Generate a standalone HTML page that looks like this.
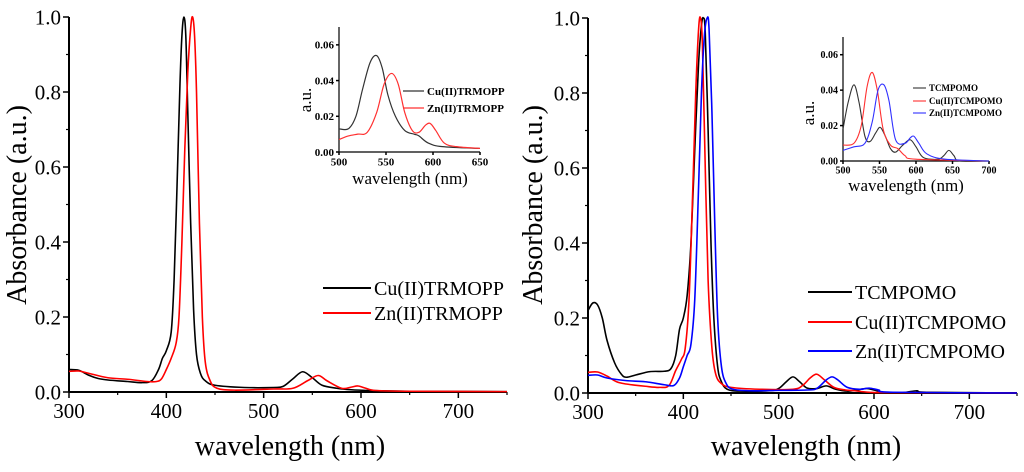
<!DOCTYPE html>
<html><head><meta charset="utf-8"><style>
html,body{margin:0;padding:0;background:#fff;}
svg{display:block;font-family:"Liberation Serif",serif;}
svg text{font-family:"Liberation Serif",serif;}
</style></head><body>
<svg id="chart" width="1024" height="472" viewBox="0 0 1024 472" xmlns="http://www.w3.org/2000/svg"></svg>
<script>
// ---- data ----
const leftCuWl=[300,310,320,330,340,360,375,385,392,396,400,405,408,411,414,416,418,420,422,425,428,431,435,440,450,480,510,520,530,540,550,560,575,590,610,650,750];
const leftCuAbs=[0.060,0.058,0.045,0.036,0.032,0.028,0.025,0.03,0.06,0.09,0.11,0.16,0.3,0.55,0.82,0.95,1.0,0.95,0.75,0.45,0.22,0.1,0.05,0.03,0.018,0.012,0.012,0.015,0.035,0.054,0.038,0.018,0.01,0.006,0.004,0.002,0.001];
const leftZnWl=[300,310,320,340,360,380,390,395,400,405,410,413,416,419,422,425,427,429,431,434,437,440,445,452,470,510,530,545,556,565,580,590,597,605,615,650,750];
const leftZnAbs=[0.055,0.056,0.05,0.038,0.034,0.028,0.028,0.035,0.06,0.09,0.13,0.2,0.4,0.65,0.85,0.97,1.0,0.95,0.8,0.45,0.2,0.08,0.03,0.01,0.005,0.008,0.01,0.03,0.044,0.03,0.01,0.013,0.016,0.01,0.004,0.002,0.001];
const rightTWl=[300,305,310,315,320,328,335,340,350,365,380,387,392,396,400,404,408,412,416,419,421,423,426,429,432,436,440,446,460,490,500,508,515,522,530,540,550,560,572,582,592,600,610,630,645,655,750];
const rightTAbs=[0.22,0.24,0.235,0.2,0.14,0.08,0.05,0.042,0.048,0.057,0.058,0.065,0.1,0.17,0.2,0.26,0.4,0.65,0.88,0.98,1.0,0.96,0.7,0.4,0.2,0.07,0.03,0.01,0.005,0.006,0.012,0.03,0.043,0.03,0.013,0.012,0.019,0.01,0.005,0.008,0.012,0.008,0.002,0.001,0.006,0.002,0];
const rightCuWl=[300,310,320,330,340,360,375,385,392,398,402,406,410,413,416,418,420,423,426,430,434,440,450,480,515,525,533,540,548,558,570,580,595,620,750];
const rightCuAbs=[0.055,0.056,0.045,0.03,0.024,0.018,0.015,0.02,0.06,0.09,0.12,0.25,0.55,0.8,0.97,1.0,0.93,0.6,0.3,0.12,0.05,0.025,0.015,0.01,0.01,0.02,0.04,0.05,0.035,0.015,0.008,0.006,0.002,0.001,0];
const rightZnWl=[300,310,320,340,360,380,390,396,400,404,408,412,416,419,422,425,427,430,433,436,440,445,452,470,500,530,540,550,556,562,572,585,595,605,620,750];
const rightZnAbs=[0.047,0.048,0.04,0.033,0.03,0.022,0.02,0.04,0.07,0.1,0.13,0.25,0.55,0.8,0.95,1.0,0.97,0.75,0.45,0.2,0.07,0.025,0.01,0.006,0.007,0.008,0.012,0.035,0.043,0.035,0.015,0.01,0.013,0.008,0.002,0];
const insetLCuWl=[500,510,518,525,533,540,546,552,560,570,580,585,595,610,650];
const insetLCuAbs=[0.013,0.013,0.02,0.035,0.05,0.054,0.047,0.032,0.02,0.012,0.01,0.009,0.005,0.003,0.002];
const insetLZnWl=[500,510,520,530,540,548,556,563,570,578,585,592,597,603,612,625,650];
const insetLZnAbs=[0.007,0.009,0.01,0.011,0.022,0.038,0.044,0.038,0.022,0.012,0.011,0.015,0.016,0.012,0.005,0.003,0.002];
const insetRTWl=[500,507,515,522,530,537,545,551,558,565,572,582,592,600,610,630,638,645,652,660,700];
const insetRTAbs=[0.018,0.033,0.043,0.033,0.014,0.011,0.016,0.019,0.014,0.007,0.005,0.009,0.012,0.008,0.002,0.001,0.003,0.006,0.003,0,0];
const insetRCuWl=[500,515,525,533,540,547,555,565,575,585,600,700];
const insetRCuAbs=[0.009,0.01,0.02,0.042,0.05,0.04,0.018,0.009,0.007,0.003,0.001,0];
const insetRZnWl=[500,515,530,540,548,556,563,572,585,592,597,604,615,640,700];
const insetRZnAbs=[0.006,0.008,0.01,0.022,0.04,0.043,0.034,0.012,0.01,0.013,0.014,0.01,0.004,0.001,0];
const mainXTicks=[300,400,500,600,700];
const mainYTicks=[0,0.2,0.4,0.6,0.8,1.0];
const insetLXTicks=[500,550,600,650];
const insetRXTicks=[500,550,600,650,700];
const insetYTicks=[0,0.02,0.04,0.06];

const NS="http://www.w3.org/2000/svg";
const svg=document.getElementById('chart');
function el(tag,attrs,parent,text){const e=document.createElementNS(NS,tag);for(const k in attrs)e.setAttribute(k,attrs[k]);if(text!==undefined)e.textContent=text;(parent||svg).appendChild(e);return e;}
function lin(d0,d1,r0,r1){return v=>r0+(v-d0)/(d1-d0)*(r1-r0);}
function pathOf(xs,ys,sx,sy){
  const p=xs.map((x,i)=>[sx(x),sy(ys[i])]);
  let d='M'+p[0][0].toFixed(2)+','+p[0][1].toFixed(2);
  for(let i=0;i<p.length-1;i++){
    const p0=p[i-1]||p[i],p1=p[i],p2=p[i+1],p3=p[i+2]||p2;
    const c1x=p1[0]+(p2[0]-p0[0])/6,c1y=p1[1]+(p2[1]-p0[1])/6;
    const c2x=p2[0]-(p3[0]-p1[0])/6,c2y=p2[1]-(p3[1]-p1[1])/6;
    d+=' C'+c1x.toFixed(2)+','+c1y.toFixed(2)+' '+c2x.toFixed(2)+','+c2y.toFixed(2)+' '+p2[0].toFixed(2)+','+p2[1].toFixed(2);
  }
  return d;
}
function axes(g,sx,sy,x0,x1,y0,y1,xt,xminor,yt,yminor,fs,dec,tl,bold){
  el('line',{x1:sx(x0),y1:sy(y0),x2:sx(x1),y2:sy(y0),stroke:'#000','stroke-width':tl>4?2:1.2},g);
  el('line',{x1:sx(x0),y1:sy(y0),x2:sx(x0),y2:sy(y1),stroke:'#000','stroke-width':tl>4?2:1.2},g);
  xt.forEach(v=>{el('line',{x1:sx(v),y1:sy(y0),x2:sx(v),y2:sy(y0)+tl,stroke:'#000','stroke-width':1.5},g);
    const t=el('text',{x:sx(v),y:sy(y0)+tl+fs*0.95,'text-anchor':'middle','font-size':fs,'font-weight':bold?'bold':'normal'},g,String(v));
    });
  xminor.forEach(v=>el('line',{x1:sx(v),y1:sy(y0),x2:sx(v),y2:sy(y0)+tl/2,stroke:'#000','stroke-width':1.2},g));
  yt.forEach(v=>{el('line',{x1:sx(x0)-tl,y1:sy(v),x2:sx(x0),y2:sy(v),stroke:'#000','stroke-width':1.5},g);
    const t=el('text',{x:sx(x0)-tl-2,y:sy(v)+fs*0.35,'text-anchor':'end','font-size':fs,'font-weight':bold?'bold':'normal'},g,v.toFixed(dec));
    });
  yminor.forEach(v=>el('line',{x1:sx(x0)-tl/2,y1:sy(v),x2:sx(x0),y2:sy(v),stroke:'#000','stroke-width':1.2},g));
}
function series(g,xs,ys,sx,sy,color,w,name){
  const p=el('path',{d:pathOf(xs,ys,sx,sy),fill:'none',stroke:color,'stroke-width':w,'stroke-linejoin':'round'},g);
  
}
function legend(g,x,y,len,color,label,fs,w,bold){
  const l=el('line',{x1:x,y1:y,x2:x+len,y2:y,stroke:color,'stroke-width':w},g);
  
  const t=el('text',{x:x+len+3,y:y+fs*0.35,'font-size':fs,'font-weight':bold?'bold':'normal'},g,label);
  
}
const minorMain=[350,450,550,650,750], minorY=[0.1,0.3,0.5,0.7,0.9];

// ---- left main panel ----
const gL=el('g',{});
const lx=lin(300,750,69,507), ly=lin(0,1,392,17);
axes(gL,lx,ly,300,750,0,1,mainXTicks,minorMain,mainYTicks,minorY,21,1,6,false);
series(gL,leftCuWl,leftCuAbs,lx,ly,'#000',1.6,'line-cu-trmopp');
series(gL,leftZnWl,leftZnAbs,lx,ly,'#ff0000',1.6,'line-zn-trmopp');
legend(gL,323,288,48,'#000','Cu(II)TRMOPP',20,2);
legend(gL,323,313,48,'#ff0000','Zn(II)TRMOPP',20,2);
let t=el('text',{x:290,y:455,'text-anchor':'middle','font-size':28},gL,'wavelength (nm)');
t=el('text',{x:0,y:0,'text-anchor':'middle','font-size':28,transform:'translate(26,205) rotate(-90)'},gL,'Absorbance (a.u.)');

// left inset
const gLI=el('g',{});
const ix=lin(500,650,339,480), iy=lin(0,0.07,152,27);
axes(gLI,ix,iy,500,650,0,0.07,insetLXTicks,[],insetYTicks,[],11,2,3,true);
series(gLI,insetLCuWl,insetLCuAbs,ix,iy,'#333',1.2,'inset-line-cu-trmopp');
series(gLI,insetLZnWl,insetLZnAbs,ix,iy,'#ff3030',1.2,'inset-line-zn-trmopp');
legend(gLI,403,91,21,'#333','Cu(II)TRMOPP',11,1.2,true);
legend(gLI,403,108,21,'#ff3030','Zn(II)TRMOPP',11,1.2,true);
t=el('text',{x:410,y:184,'text-anchor':'middle','font-size':17},gLI,'wavelength (nm)');
t=el('text',{x:0,y:0,'text-anchor':'middle','font-size':17,transform:'translate(311,100) rotate(-90)'},gLI,'a.u.');

// ---- right main panel ----
const gR=el('g',{});
const rx=lin(300,750,588,1017), ry=lin(0,1,393,18);
axes(gR,rx,ry,300,750,0,1,mainXTicks,minorMain,mainYTicks,minorY,21,1,6,false);
series(gR,rightTWl,rightTAbs,rx,ry,'#000',1.6,'line-tcmpomo');
series(gR,rightCuWl,rightCuAbs,rx,ry,'#ff0000',1.6,'line-cu-tcmpomo');
series(gR,rightZnWl,rightZnAbs,rx,ry,'#0000ff',1.6,'line-zn-tcmpomo');
legend(gR,808,292,44,'#000','TCMPOMO',20,2);
legend(gR,808,322,44,'#ff0000','Cu(II)TCMPOMO',20,2);
legend(gR,808,351,44,'#0000ff','Zn(II)TCMPOMO',20,2);
t=el('text',{x:806,y:455,'text-anchor':'middle','font-size':28},gR,'wavelength (nm)');
t=el('text',{x:0,y:0,'text-anchor':'middle','font-size':28,transform:'translate(542,205) rotate(-90)'},gR,'Absorbance (a.u.)');

// right inset
const gRI=el('g',{});
const jx=lin(500,700,843,989), jy=lin(0,0.07,161,37);
axes(gRI,jx,jy,500,700,0,0.07,insetRXTicks,[],insetYTicks,[],10,2,3,true);
series(gRI,insetRTWl,insetRTAbs,jx,jy,'#333',1.1,'inset-line-tcmpomo');
series(gRI,insetRCuWl,insetRCuAbs,jx,jy,'#ff3030',1.1,'inset-line-cu-tcmpomo');
series(gRI,insetRZnWl,insetRZnAbs,jx,jy,'#3030ff',1.1,'inset-line-zn-tcmpomo');
legend(gRI,913,88,13,'#333','TCMPOMO',9,1.1,true);
legend(gRI,913,101,13,'#ff3030','Cu(II)TCMPOMO',9,1.1,true);
legend(gRI,913,113,13,'#3030ff','Zn(II)TCMPOMO',9,1.1,true);
t=el('text',{x:906,y:191,'text-anchor':'middle','font-size':17},gRI,'wavelength (nm)');
t=el('text',{x:0,y:0,'text-anchor':'middle','font-size':17,transform:'translate(814,113) rotate(-90)'},gRI,'a.u.');
</script>
</body></html>
